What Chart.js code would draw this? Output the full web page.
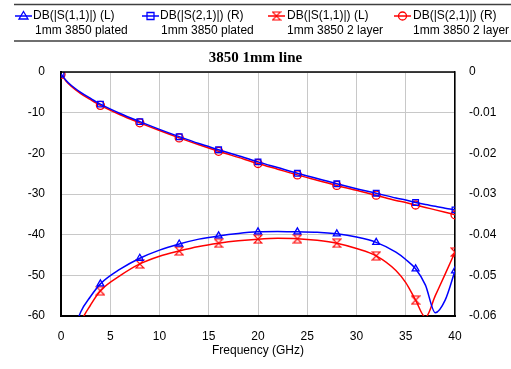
<!DOCTYPE html>
<html>
<head>
<meta charset="utf-8">
<script src="https://cdn.jsdelivr.net/npm/chart.js@4.4.1/dist/chart.umd.min.js"></script>
<style>
  body { margin: 0; background: #fff; }
  canvas { display: block; }
</style>
</head>
<body>
<canvas id="myChart" width="511" height="369"></canvas>
<script>
// frequency points (GHz)
const freq = [0, 0.5, 1, 2, 3, 4, 6, 8, 10, 12, 14, 16, 18, 20, 22, 24, 26, 28, 30, 32, 34, 35, 36, 37, 38, 39, 40];

// DB(|S(1,1)|) left axis
const s11Plated = [null, null, -66, -59.0, -55.2, -52.1, -48.5, -45.8, -43.8, -42.3, -41.1, -40.3, -39.7, -39.3, -39.2, -39.3, -39.4, -39.8, -40.6, -41.9, -44.3, -46.1, -48.4, -52.4, -59.2, -56.1, -48.9];
const s11TwoLayer = [null, null, -69, -61.6, -57.3, -53.8, -50.1, -47.2, -45.3, -44.0, -42.9, -42.1, -41.5, -41.1, -40.9, -41.0, -41.4, -42.1, -43.4, -45.2, -48.8, -51.8, -56.1, -60.3, -55.0, -49.7, -44.3];

// DB(|S(2,1)|) right axis
const s21Plated = [-0.0005, -0.0020, -0.0032, -0.0050, -0.0065, -0.0079, -0.0102, -0.0122, -0.0141, -0.0159, -0.0176, -0.0191, -0.0206, -0.0221, -0.0235, -0.0249, -0.0262, -0.0275, -0.0287, -0.0298, -0.0310, -0.0315, -0.0321, -0.0326, -0.0330, -0.0335, -0.0339];
const s21TwoLayer = [-0.0006, -0.0022, -0.0034, -0.0053, -0.0068, -0.0082, -0.0105, -0.0125, -0.0144, -0.0162, -0.0179, -0.0195, -0.0210, -0.0225, -0.0239, -0.0253, -0.0266, -0.0279, -0.0291, -0.0303, -0.0316, -0.0321, -0.0327, -0.0333, -0.0339, -0.0345, -0.0351];

const legendLine1 = ['DB(|S(1,1)|) (L)', 'DB(|S(2,1)|) (R)', 'DB(|S(1,1)|) (L)', 'DB(|S(2,1)|) (R)'];
const legendLine2 = ['1mm 3850 plated', '1mm 3850 plated', '1mm 3850 2 layer', '1mm 3850 2 layer'];

const BLUE = '#0000ff';
const RED = '#ff0000';
const FONT = 'Arial, "Liberation Sans", sans-serif';

function hourglass(color) {
  const c = document.createElement('canvas');
  c.width = 10; c.height = 10;
  const g = c.getContext('2d');
  g.strokeStyle = color;
  g.lineWidth = 1.2;
  g.beginPath();
  g.moveTo(1, 1); g.lineTo(9, 1); g.lineTo(1, 9); g.lineTo(9, 9); g.closePath();
  g.stroke();
  return c;
}
const hourglassRed = hourglass(RED);

function pts(vals) {
  return vals.map((v, i) => ({x: freq[i], y: v}));
}
const markerRadius = ctx => (freq[ctx.dataIndex] % 4 === 0 ? 4 : 0);

function series(label, vals, color, style, axis) {
  return {
    label: label,
    data: pts(vals),
    yAxisID: axis,
    borderColor: color,
    backgroundColor: color,
    borderWidth: 1.5,
    pointStyle: style,
    pointRadius: markerRadius,
    pointHoverRadius: markerRadius,
    pointBorderColor: color,
    pointBackgroundColor: 'rgba(0,0,0,0)',
    pointBorderWidth: 1.3,
    cubicInterpolationMode: 'monotone',
    fill: false
  };
}

function drawMarker(ctx, style, color, x, y) {
  ctx.save();
  ctx.strokeStyle = color;
  ctx.lineWidth = 1.3;
  ctx.beginPath();
  if (style === 'triangle') {
    ctx.moveTo(x, y - 4.5); ctx.lineTo(x + 4.5, y + 3); ctx.lineTo(x - 4.5, y + 3); ctx.closePath();
    ctx.stroke();
  } else if (style === 'rect') {
    ctx.rect(x - 3.5, y - 3.5, 7, 7);
    ctx.stroke();
  } else if (style === 'circle') {
    ctx.arc(x, y, 4, 0, Math.PI * 2);
    ctx.stroke();
  } else {
    ctx.drawImage(style, x - 5, y - 5);
  }
  ctx.restore();
}

const legendBox = {
  id: 'legendBox',
  afterDraw(chart) {
    const ctx = chart.ctx;
    ctx.save();
    ctx.strokeStyle = '#404040';
    ctx.lineWidth = 1.5;
    ctx.beginPath();
    ctx.moveTo(14, 4.5); ctx.lineTo(511, 4.5);
    ctx.moveTo(14, 41); ctx.lineTo(511, 41);
    ctx.stroke();

    const sx = [15, 142, 268, 394];
    const tx = [33, 160, 287, 413];
    const tx2 = [35, 161, 287, 413];
    chart.data.datasets.forEach((ds, i) => {
      ctx.strokeStyle = ds.borderColor;
      ctx.lineWidth = 1.5;
      ctx.beginPath();
      ctx.moveTo(sx[i], 16); ctx.lineTo(sx[i] + 17, 16);
      ctx.stroke();
      drawMarker(ctx, ds.pointStyle, ds.borderColor, sx[i] + 8.5, 16);
      ctx.fillStyle = '#000';
      ctx.font = '12px ' + FONT;
      ctx.textBaseline = 'middle';
      ctx.textAlign = 'left';
      ctx.fillText(legendLine1[i], tx[i], 16);
      ctx.fillText(legendLine2[i], tx2[i], 31);
    });

    // top frame line of the plot
    const a = chart.chartArea;
    ctx.strokeStyle = '#000';
    ctx.lineWidth = 1.5;
    ctx.beginPath();
    ctx.moveTo(a.left, a.top); ctx.lineTo(a.right, a.top);
    ctx.stroke();
    ctx.restore();
  }
};

const data = {
  datasets: [
    series('DB(|S(1,1)|) (L) 1mm 3850 plated', s11Plated, BLUE, 'triangle', 'y'),
    series('DB(|S(2,1)|) (R) 1mm 3850 plated', s21Plated, BLUE, 'rect', 'y2'),
    series('DB(|S(1,1)|) (L) 1mm 3850 2 layer', s11TwoLayer, RED, hourglassRed, 'y'),
    series('DB(|S(2,1)|) (R) 1mm 3850 2 layer', s21TwoLayer, RED, 'circle', 'y2')
  ]
};

const tickFont = {family: FONT, size: 12};

const options = {
  responsive: false,
  animation: false,
  devicePixelRatio: 1,
  layout: {padding: {top: 44, left: 0, right: 0, bottom: 0}},
  plugins: {
    legend: {display: false},
    tooltip: {enabled: false},
    title: {
      display: true,
      text: '3850 1mm line',
      color: '#000',
      font: {family: '"Liberation Serif", "Times New Roman", serif', size: 15, weight: 'bold'},
      padding: {top: 5, bottom: 5}
    }
  },
  scales: {
    x: {
      type: 'linear',
      min: 0, max: 40,
      ticks: {stepSize: 5, color: '#000', font: tickFont, padding: 13, maxRotation: 0},
      grid: {color: '#c8c8c8', drawTicks: false},
      border: {color: '#000', width: 2},
      title: {display: true, text: 'Frequency (GHz)', color: '#000', font: tickFont, padding: {top: 0, bottom: 11}},
      afterFit: s => { s.height = 53; }
    },
    y: {
      position: 'left',
      min: -60, max: 0,
      ticks: {stepSize: 10, color: '#000', font: tickFont, padding: 16},
      grid: {color: '#c8c8c8', drawTicks: false},
      border: {color: '#000', width: 2},
      afterFit: s => { s.width = 61; }
    },
    y2: {
      position: 'right',
      min: -0.06, max: 0,
      ticks: {stepSize: 0.01, color: '#000', font: tickFont, padding: 14,
        callback: v => String(+v.toFixed(2))},
      grid: {display: false, drawTicks: false},
      border: {color: '#000', width: 1.5},
      afterFit: s => { s.width = 56; }
    }
  }
};

const config = {
  type: 'line',
  data: data,
  options: options,
  plugins: [legendBox]
};

const myChart = new Chart(document.getElementById('myChart'), config);
</script>
</body>
</html>
